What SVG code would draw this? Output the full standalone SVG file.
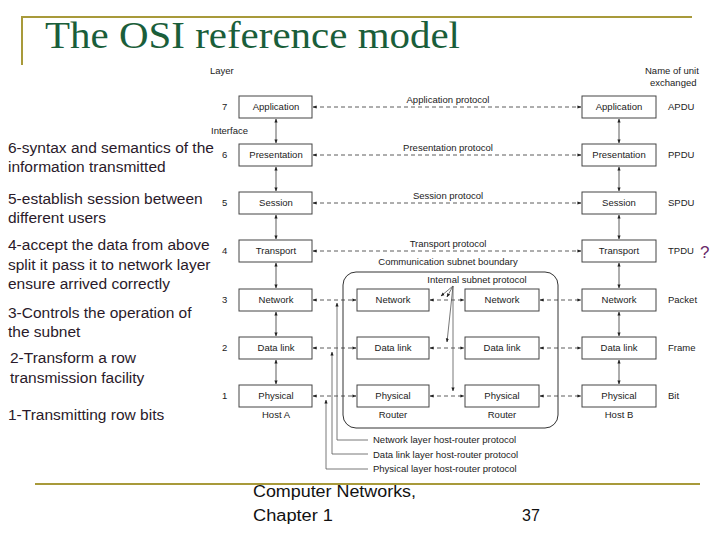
<svg xmlns="http://www.w3.org/2000/svg" width="720" height="540" viewBox="0 0 720 540">
<style>
.t{font-family:"Liberation Sans",Arial,sans-serif;font-size:9.5px;fill:#222}
.tc{font-family:"Liberation Sans",Arial,sans-serif;font-size:9.5px;fill:#222;text-anchor:middle}
.n{font-family:"Liberation Sans",Arial,sans-serif;font-size:15.5px;fill:#2a1a2a}
.box{fill:#fff;stroke:#444;stroke-width:1}
.d{stroke:#333;stroke-width:0.8;stroke-dasharray:4,3;fill:none;marker-start:url(#a);marker-end:url(#a)}
.v{stroke:#333;stroke-width:0.8;fill:none;marker-start:url(#a);marker-end:url(#a)}
.l{stroke:#555;stroke-width:0.8;fill:none}
</style>
<defs>
<marker id="a" viewBox="0 0 10 10" refX="9" refY="5" markerWidth="5" markerHeight="5" orient="auto-start-reverse"><path d="M0,1 L10,5 L0,9 z" fill="#222"/></marker>
</defs>
<rect width="720" height="540" fill="#fff"/>
<g id="frame">
<path d="M22,65 V17 H692" stroke="#a89a3a" stroke-width="2" fill="none"/>
<line x1="35" y1="484" x2="700" y2="484" stroke="#a89a3a" stroke-width="2"/>
<text x="45" y="48" font-family="Liberation Serif,serif" font-size="37" fill="#1a5e3a" textLength="415" lengthAdjust="spacingAndGlyphs">The OSI reference model</text>
<text x="253" y="497" font-family="Liberation Sans,sans-serif" font-size="16" fill="#111" textLength="163" lengthAdjust="spacingAndGlyphs">Computer Networks,</text>
<text x="253" y="521" font-family="Liberation Sans,sans-serif" font-size="16" fill="#111" textLength="80" lengthAdjust="spacingAndGlyphs">Chapter 1</text>
<text x="522" y="521" font-family="Liberation Sans,sans-serif" font-size="16" fill="#111">37</text>
</g>
<g id="notes">
<text class="n" x="8" y="153">6-syntax and semantics of the</text>
<text class="n" x="8" y="172">information transmitted</text>
<text class="n" x="8" y="204">5-establish session between</text>
<text class="n" x="8" y="223">different  users</text>
<text class="n" x="8" y="250">4-accept the data from above</text>
<text class="n" x="8" y="270">split it pass it to network layer</text>
<text class="n" x="8" y="289">ensure arrived correctly</text>
<text class="n" x="8" y="318">3-Controls the operation of</text>
<text class="n" x="8" y="337">the subnet</text>
<text class="n" x="10" y="363">2-Transform a row</text>
<text class="n" x="10" y="383">transmission facility</text>
<text class="n" x="8" y="420">1-Transmitting row bits</text>
<text x="700" y="258" font-family="Liberation Sans,sans-serif" font-size="17" fill="#6a2a6a">?</text>
</g>
<g id="labels">
<text class="t" x="210" y="74">Layer</text>
<text class="t" x="645" y="74">Name of unit</text>
<text class="t" x="650" y="86">exchanged</text>
<text class="t" x="211" y="134">Interface</text>
<text class="t" x="222" y="110">7</text><text class="t" x="222" y="158">6</text><text class="t" x="222" y="206">5</text><text class="t" x="222" y="254">4</text><text class="t" x="222" y="303">3</text><text class="t" x="222" y="351">2</text><text class="t" x="222" y="399">1</text>
<text class="t" x="668" y="110">APDU</text><text class="t" x="668" y="158">PPDU</text><text class="t" x="668" y="206">SPDU</text><text class="t" x="668" y="254">TPDU</text><text class="t" x="668" y="303">Packet</text><text class="t" x="668" y="351">Frame</text><text class="t" x="668" y="399">Bit</text>
<text class="tc" x="448" y="103">Application protocol</text>
<text class="tc" x="448" y="151">Presentation protocol</text>
<text class="tc" x="448" y="199">Session protocol</text>
<text class="tc" x="448" y="247">Transport protocol</text>
<text class="tc" x="448" y="265">Communication subnet boundary</text>
<text class="tc" x="477" y="283">Internal subnet protocol</text>
<text class="tc" x="276" y="418">Host A</text>
<text class="tc" x="393" y="418">Router</text>
<text class="tc" x="502" y="418">Router</text>
<text class="tc" x="619" y="418">Host B</text>
<text class="t" x="373" y="443">Network layer host-router protocol</text>
<text class="t" x="373" y="458">Data link layer host-router protocol</text>
<text class="t" x="373" y="472">Physical layer host-router protocol</text>
</g>
<rect id="subnet" x="343" y="272" width="215" height="156" rx="13" fill="none" stroke="#333" stroke-width="1"/>
<g id="hostA">
<rect class="box" x="239" y="96" width="73" height="22"/><text class="tc" x="276" y="110">Application</text>
<rect class="box" x="239" y="144" width="73" height="22"/><text class="tc" x="276" y="158">Presentation</text>
<rect class="box" x="239" y="192" width="73" height="22"/><text class="tc" x="276" y="206">Session</text>
<rect class="box" x="239" y="240" width="73" height="22"/><text class="tc" x="276" y="254">Transport</text>
<rect class="box" x="239" y="289" width="73" height="22"/><text class="tc" x="276" y="303">Network</text>
<rect class="box" x="239" y="337" width="73" height="22"/><text class="tc" x="276" y="351">Data link</text>
<rect class="box" x="239" y="385" width="73" height="22"/><text class="tc" x="276" y="399">Physical</text>
</g>
<g id="hostB">
<rect class="box" x="582" y="96" width="74" height="22"/><text class="tc" x="619" y="110">Application</text>
<rect class="box" x="582" y="144" width="74" height="22"/><text class="tc" x="619" y="158">Presentation</text>
<rect class="box" x="582" y="192" width="74" height="22"/><text class="tc" x="619" y="206">Session</text>
<rect class="box" x="582" y="240" width="74" height="22"/><text class="tc" x="619" y="254">Transport</text>
<rect class="box" x="582" y="289" width="74" height="22"/><text class="tc" x="619" y="303">Network</text>
<rect class="box" x="582" y="337" width="74" height="22"/><text class="tc" x="619" y="351">Data link</text>
<rect class="box" x="582" y="385" width="74" height="22"/><text class="tc" x="619" y="399">Physical</text>
</g>
<g id="router1">
<rect class="box" x="357" y="289" width="72" height="22"/><text class="tc" x="393" y="303">Network</text>
<rect class="box" x="357" y="337" width="72" height="22"/><text class="tc" x="393" y="351">Data link</text>
<rect class="box" x="357" y="385" width="72" height="22"/><text class="tc" x="393" y="399">Physical</text>
</g>
<g id="router2">
<rect class="box" x="465" y="289" width="74" height="22"/><text class="tc" x="502" y="303">Network</text>
<rect class="box" x="465" y="337" width="74" height="22"/><text class="tc" x="502" y="351">Data link</text>
<rect class="box" x="465" y="385" width="74" height="22"/><text class="tc" x="502" y="399">Physical</text>
</g>
<g id="connectors">
<line class="d" x1="313" y1="107" x2="581" y2="107"/>
<line class="d" x1="313" y1="155" x2="581" y2="155"/>
<line class="d" x1="313" y1="203" x2="581" y2="203"/>
<line class="d" x1="313" y1="251" x2="581" y2="251"/>
<line class="d" x1="313" y1="300" x2="356" y2="300"/><line class="d" x1="430" y1="300" x2="464" y2="300"/><line class="d" x1="540" y1="300" x2="581" y2="300"/>
<line class="d" x1="313" y1="348" x2="356" y2="348"/><line class="d" x1="430" y1="348" x2="464" y2="348"/><line class="d" x1="540" y1="348" x2="581" y2="348"/>
<line class="d" x1="313" y1="396" x2="356" y2="396"/><line class="d" x1="430" y1="396" x2="464" y2="396"/><line class="d" x1="540" y1="396" x2="581" y2="396"/>
<line class="v" x1="276" y1="119" x2="276" y2="143"/><line class="v" x1="276" y1="167" x2="276" y2="191"/><line class="v" x1="276" y1="215" x2="276" y2="239"/><line class="v" x1="276" y1="263" x2="276" y2="288"/><line class="v" x1="276" y1="312" x2="276" y2="336"/><line class="v" x1="276" y1="360" x2="276" y2="384"/>
<line class="v" x1="619" y1="119" x2="619" y2="143"/><line class="v" x1="619" y1="167" x2="619" y2="191"/><line class="v" x1="619" y1="215" x2="619" y2="239"/><line class="v" x1="619" y1="263" x2="619" y2="288"/><line class="v" x1="619" y1="312" x2="619" y2="336"/><line class="v" x1="619" y1="360" x2="619" y2="384"/>
<path class="l" d="M453,286 L441,296" marker-end="url(#a)"/>
<path class="l" d="M453,286 L447,297" marker-end="url(#a)"/>
<path class="l" d="M453,286 L447,342" marker-end="url(#a)"/>
<path class="l" d="M453,286 L453,391" marker-end="url(#a)"/>
<path class="l" d="M368,440 H337 V303" marker-end="url(#a)"/>
<path class="l" d="M368,454 H332 V352" marker-end="url(#a)"/>
<path class="l" d="M368,469 H326 V400" marker-end="url(#a)"/>
</g>
</svg>
